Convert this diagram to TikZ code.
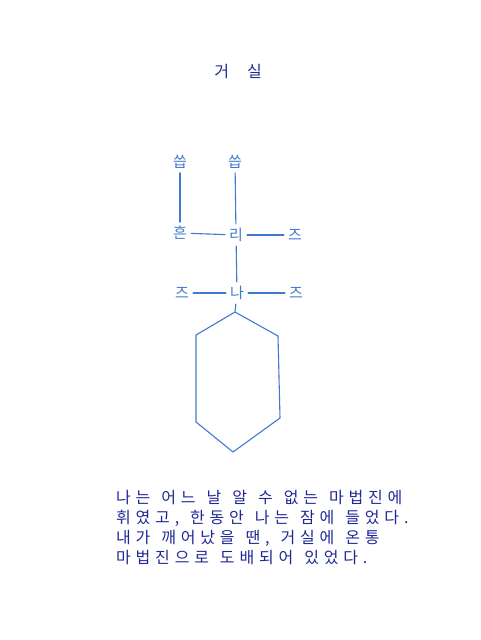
\documentclass[tikz,border=0pt]{standalone}
\usepackage{fontspec}
\newfontfamily\kr{Noto Sans CJK KR}
\newfontfamily\krw[LetterSpace=30]{Noto Sans CJK KR}
\definecolor{pen}{RGB}{64,122,204}
\definecolor{ink}{RGB}{32,40,150}
\newcommand\widesp{\spaceskip=11pt\relax}
\tikzset{
  lbl/.style={font=\kr\fontsize{15}{15}\selectfont, text=pen, inner sep=4pt},
  wire/.style={draw=pen, line width=1.1pt, line cap=round},
  para/.style={font=\krw\fontsize{16}{20}\selectfont, text=ink, anchor=north west, align=left, inner sep=0pt}
}
\begin{document}
\begin{tikzpicture}[x=1pt,y=-1pt]
\useasboundingbox (0,0) rectangle (480,640);
\node[font=\kr\fontsize{16}{16}\selectfont, text=ink] (title) at (238,72) {거\hspace{18pt}실};
\node[lbl] (s1) at (180,162) {씁};
\node[lbl] (s2) at (235,162) {씁};
\node[lbl] (h) at (180,233) {흔};
\node[lbl] (c1) at (236,235) {리};
\node[lbl] (r1) at (295,235) {즈};
\node[lbl] (l2) at (182,293) {즈};
\node[lbl] (c2) at (237,293) {나};
\node[lbl] (r2) at (296,293) {즈};
\coordinate (t) at (235,312);
\coordinate (ur) at (278,336);
\coordinate (lr) at (280,418);
\coordinate (b) at (233,452);
\coordinate (ll) at (196,422);
\coordinate (ul) at (196,335);
\draw[wire] (s1) -- (h);
\draw[wire] (s2) -- (c1);
\draw[wire] (h) -- (c1);
\draw[wire] (c1) -- (r1);
\draw[wire] (c1) -- (c2);
\draw[wire] (l2) -- (c2);
\draw[wire] (c2) -- (r2);
\draw[wire] (c2) -- (t);
\draw[wire, line join=round] (t) -- (ur) -- (lr) -- (b) -- (ll) -- (ul) -- cycle;
\node[para] (p) at (116,490) {\widesp 나는 어느 날 알 수 없는 마법진에\\\widesp 휘였고, 한동안 나는 잠에 들었다.\\\widesp 내가 깨어났을 땐, 거실에 온통\\\widesp 마법진으로 도배되어 있었다.};
\end{tikzpicture}
\end{document}
